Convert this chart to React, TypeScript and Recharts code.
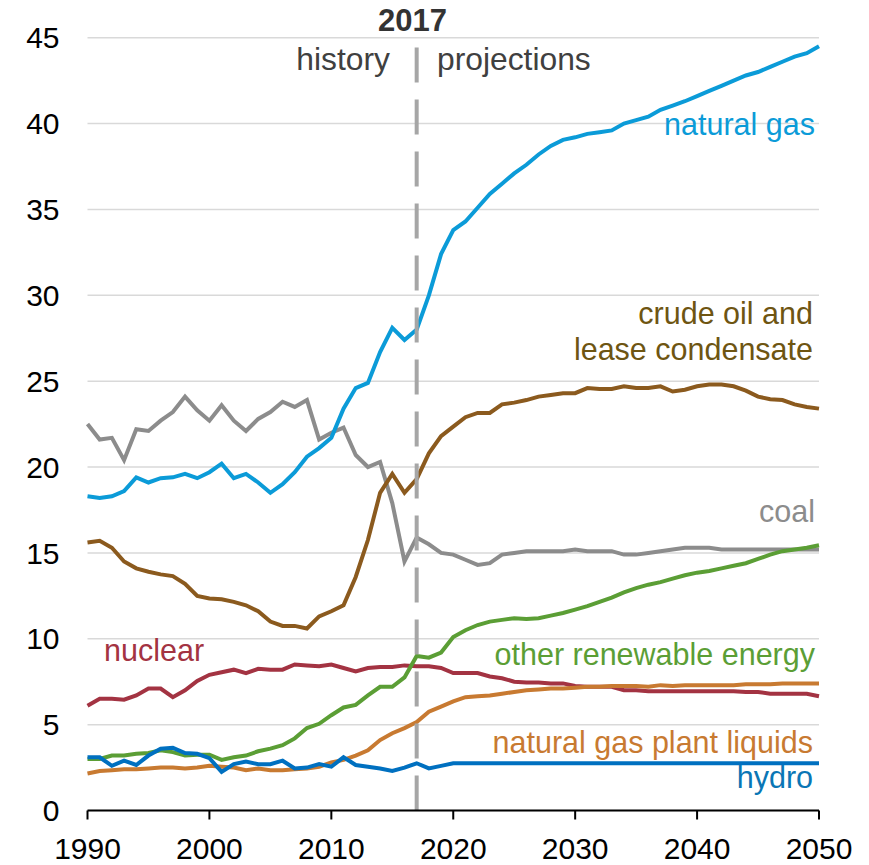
import React from 'react';
import { LineChart, Line, XAxis, YAxis, CartesianGrid, ReferenceLine } from 'recharts';

const years = [
  1990, 1991, 1992, 1993, 1994, 1995, 1996, 1997, 1998, 1999,
  2000, 2001, 2002, 2003, 2004, 2005, 2006, 2007, 2008, 2009,
  2010, 2011, 2012, 2013, 2014, 2015, 2016, 2017, 2018, 2019,
  2020, 2021, 2022, 2023, 2024, 2025, 2026, 2027, 2028, 2029,
  2030, 2031, 2032, 2033, 2034, 2035, 2036, 2037, 2038, 2039,
  2040, 2041, 2042, 2043, 2044, 2045, 2046, 2047, 2048, 2049, 2050,
];

const naturalGas = [
  18.3, 18.2, 18.3, 18.6, 19.4, 19.1, 19.35, 19.4, 19.6, 19.35,
  19.7, 20.2, 19.35, 19.6, 19.1, 18.5, 19.0, 19.7, 20.6, 21.1,
  21.7, 23.4, 24.6, 24.9, 26.7, 28.1, 27.4, 28.0, 30.0, 32.4,
  33.8, 34.3, 35.1, 35.9, 36.5, 37.1, 37.6, 38.2, 38.7, 39.05,
  39.2, 39.4, 39.5, 39.6, 40.0, 40.2, 40.4, 40.8, 41.05, 41.3,
  41.6, 41.9, 42.2, 42.5, 42.8, 43.0, 43.3, 43.6, 43.9, 44.1, 44.5,
];

const crudeOil = [
  15.6, 15.7, 15.3, 14.5, 14.1, 13.9, 13.75, 13.65, 13.2, 12.5,
  12.35, 12.3, 12.15, 11.95, 11.6, 11.0, 10.75, 10.75, 10.6, 11.3,
  11.6, 11.95, 13.6, 15.75, 18.5, 19.6, 18.5, 19.3, 20.8, 21.8,
  22.35, 22.9, 23.15, 23.15, 23.65, 23.75, 23.9, 24.1, 24.2, 24.3,
  24.3, 24.6, 24.55, 24.55, 24.7, 24.6, 24.6, 24.7, 24.4, 24.5,
  24.7, 24.8, 24.8, 24.7, 24.45, 24.1, 23.95, 23.9, 23.65, 23.5, 23.4,
];

const coal = [
  22.5, 21.6, 21.7, 20.4, 22.2, 22.1, 22.7, 23.2, 24.1, 23.3,
  22.7, 23.6, 22.7, 22.1, 22.8, 23.2, 23.8, 23.5, 23.9, 21.6,
  22.0, 22.3, 20.7, 20.0, 20.3, 17.9, 14.5, 15.9, 15.5, 15.0,
  14.9, 14.6, 14.3, 14.4, 14.9, 15.0, 15.1, 15.1, 15.1, 15.1,
  15.2, 15.1, 15.1, 15.1, 14.9, 14.9, 15.0, 15.1, 15.2, 15.3,
  15.3, 15.3, 15.2, 15.2, 15.2, 15.2, 15.2, 15.2, 15.2, 15.2, 15.2,
];

const otherRenewable = [
  3.0, 3.0, 3.2, 3.2, 3.3, 3.35, 3.5, 3.4, 3.2, 3.25,
  3.25, 2.95, 3.1, 3.2, 3.45, 3.6, 3.8, 4.2, 4.8, 5.05,
  5.55, 6.0, 6.15, 6.7, 7.2, 7.2, 7.75, 9.0, 8.9, 9.2,
  10.1, 10.5, 10.8, 11.0, 11.1, 11.2, 11.15, 11.2, 11.35, 11.5,
  11.7, 11.9, 12.15, 12.4, 12.7, 12.95, 13.15, 13.3, 13.5, 13.7,
  13.85, 13.95, 14.1, 14.25, 14.4, 14.65, 14.9, 15.1, 15.2, 15.3, 15.45,
];

const nuclear = [
  6.1, 6.5, 6.5, 6.45, 6.7, 7.1, 7.1, 6.6, 7.0, 7.55,
  7.9, 8.05, 8.2, 8.0, 8.25, 8.2, 8.2, 8.5, 8.45, 8.4,
  8.5, 8.3, 8.1, 8.3, 8.35, 8.35, 8.45, 8.4, 8.4, 8.3,
  8.0, 8.0, 8.0, 7.8, 7.7, 7.5, 7.45, 7.45, 7.4, 7.4,
  7.25, 7.2, 7.2, 7.2, 7.0, 7.0, 6.95, 6.95, 6.95, 6.95,
  6.95, 6.95, 6.95, 6.95, 6.9, 6.9, 6.8, 6.8, 6.8, 6.8, 6.65,
];

const ngpl = [
  2.15, 2.3, 2.35, 2.4, 2.4, 2.45, 2.5, 2.5, 2.45, 2.5,
  2.6, 2.55, 2.5, 2.35, 2.45, 2.35, 2.35, 2.4, 2.45, 2.55,
  2.8, 2.95, 3.2, 3.5, 4.1, 4.5, 4.8, 5.15, 5.75, 6.05,
  6.35, 6.6, 6.65, 6.7, 6.8, 6.9, 7.0, 7.05, 7.1, 7.1,
  7.15, 7.2, 7.2, 7.25, 7.25, 7.25, 7.2, 7.3, 7.25, 7.3,
  7.3, 7.3, 7.3, 7.3, 7.35, 7.35, 7.35, 7.4, 7.4, 7.4, 7.4,
];

const hydro = [
  3.1, 3.1, 2.6, 2.9, 2.65, 3.2, 3.6, 3.65, 3.35, 3.3,
  3.05, 2.25, 2.7, 2.85, 2.7, 2.7, 2.9, 2.45, 2.5, 2.7,
  2.55, 3.1, 2.65, 2.55, 2.45, 2.3, 2.5, 2.75, 2.45, 2.6,
  2.75, 2.75, 2.75, 2.75, 2.75, 2.75, 2.75, 2.75, 2.75, 2.75,
  2.75, 2.75, 2.75, 2.75, 2.75, 2.75, 2.75, 2.75, 2.75, 2.75,
  2.75, 2.75, 2.75, 2.75, 2.75, 2.75, 2.75, 2.75, 2.75, 2.75, 2.75,
];

const xTicks = [1990, 2000, 2010, 2020, 2030, 2040, 2050];
const yTicks = [0, 5, 10, 15, 20, 25, 30, 35, 40, 45];

const data = years.map((year, i) => ({
  year,
  naturalGas: naturalGas[i],
  crudeOil: crudeOil[i],
  coal: coal[i],
  otherRenewable: otherRenewable[i],
  nuclear: nuclear[i],
  ngpl: ngpl[i],
  hydro: hydro[i],
}));

const FONT = '"Liberation Sans", Arial, sans-serif';

export default function App() {
  return (
    <div style={{ position: 'absolute', left: 0, top: 0, width: 869, height: 865, background: '#fff', fontFamily: FONT }}>
      <LineChart
        width={869}
        height={865}
        data={data}
        margin={{ top: 37.7, right: 50, bottom: 0, left: 0 }}
      >
        <CartesianGrid vertical={false} stroke="#d9d9d9" strokeWidth={1.5} />
        <XAxis
          dataKey="year"
          type="number"
          domain={[1990, 2050]}
          ticks={xTicks}
          interval={0}
          height={54.5}
          tickSize={9}
          tickMargin={18}
          axisLine={{ stroke: '#000', strokeWidth: 2 }}
          tickLine={{ stroke: '#000', strokeWidth: 2 }}
          tick={{ fill: '#000', fontSize: 30, fontFamily: FONT }}
        />
        <YAxis
          domain={[0, 45]}
          ticks={yTicks}
          interval={0}
          width={87.5}
          axisLine={false}
          tickLine={false}
          tickSize={0}
          tickMargin={28}
          tick={{ fill: '#000', fontSize: 30, fontFamily: FONT }}
        />
        <Line dataKey="coal" type="linear" stroke="#8c8c8c" strokeWidth={4} dot={false} isAnimationActive={false} />
        <Line dataKey="crudeOil" type="linear" stroke="#8b5a1e" strokeWidth={4} dot={false} isAnimationActive={false} />
        <Line dataKey="naturalGas" type="linear" stroke="#0b9bd8" strokeWidth={4} dot={false} isAnimationActive={false} />
        <Line dataKey="nuclear" type="linear" stroke="#a33342" strokeWidth={4} dot={false} isAnimationActive={false} />
        <Line dataKey="ngpl" type="linear" stroke="#c87a31" strokeWidth={4} dot={false} isAnimationActive={false} />
        <Line dataKey="otherRenewable" type="linear" stroke="#5b9e35" strokeWidth={4} dot={false} isAnimationActive={false} />
        <Line dataKey="hydro" type="linear" stroke="#0070c0" strokeWidth={4} dot={false} isAnimationActive={false} />
        <ReferenceLine x={2017} stroke="#a6a6a6" strokeWidth={4} strokeDasharray="35 17" />
      </LineChart>
      <svg width={869} height={865} style={{ position: 'absolute', left: 0, top: 0, pointerEvents: 'none' }} fontFamily={FONT} fontSize={30.5}>
        <text x={412.5} y={31} textAnchor="middle" fontWeight="bold" fontSize={31} fill="#333333">2017</text>
        <text x={390} y={70} textAnchor="end" fontSize={31.8} fill="#404040">history</text>
        <text x={437} y={70} textAnchor="start" fontSize={31.8} fill="#404040">projections</text>
        <text x={815} y={135} textAnchor="end" fill="#0b9bd8">natural gas</text>
        <text x={813} y={324} textAnchor="end" fill="#6e5512">crude oil and</text>
        <text x={813} y={360} textAnchor="end" fill="#6e5512">lease condensate</text>
        <text x={815} y={522} textAnchor="end" fill="#8c8c8c">coal</text>
        <text x={815} y={665} textAnchor="end" fill="#5b9e35">other renewable energy</text>
        <text x={104} y={661} textAnchor="start" fill="#a33342">nuclear</text>
        <text x={813} y={753} textAnchor="end" fill="#c87a31">natural gas plant liquids</text>
        <text x={813} y={788} textAnchor="end" fill="#0a76b5">hydro</text>
      </svg>
    </div>
  );
}
